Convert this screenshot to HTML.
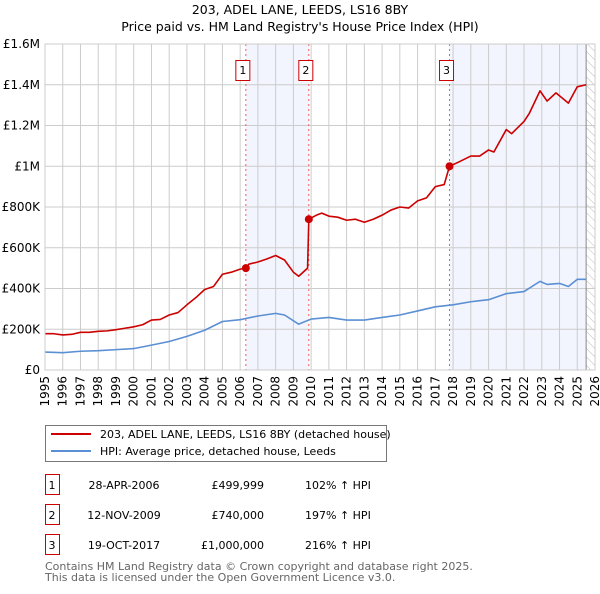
<!DOCTYPE html>
<html><head><meta charset="utf-8">
<style>
body{margin:0;background:#fff;width:600px;height:590px;overflow:hidden;font-family:"DejaVu Sans","Liberation Sans",sans-serif;}
svg text{font-family:"DejaVu Sans","Liberation Sans",sans-serif;}
</style></head>
<body>
<svg id="chart" width="600" height="590">
<defs>
<pattern id="hatch" width="6" height="6" patternUnits="userSpaceOnUse" patternTransform="rotate(-45)">
<line x1="0" y1="0" x2="0" y2="6" stroke="#bbb" stroke-width="1"/>
</pattern>
</defs>
<text x="300" y="14" text-anchor="middle" font-size="12.5" fill="#000">203, ADEL LANE, LEEDS, LS16 8BY</text>
<text x="300" y="31" text-anchor="middle" font-size="12.5" fill="#000">Price paid vs. HM Land Registry's House Price Index (HPI)</text>
<g id="plot"></g>
<g>
<rect x="45.5" y="425.5" width="341" height="36" fill="#fff" stroke="#777"/>
<line x1="51" y1="434" x2="91" y2="434" stroke="#cc0000" stroke-width="2"/>
<text x="100" y="438" font-size="11">203, ADEL LANE, LEEDS, LS16 8BY (detached house)</text>
<line x1="51" y1="451" x2="91" y2="451" stroke="#5b8fd4" stroke-width="2"/>
<text x="100" y="455" font-size="11">HPI: Average price, detached house, Leeds</text>
</g>
<g id="table" font-size="11"></g>
<text x="45" y="570" font-size="11" fill="#666">Contains HM Land Registry data © Crown copyright and database right 2025.</text>
<text x="45" y="581" font-size="11" fill="#666">This data is licensed under the Open Government Licence v3.0.</text>
</svg>
<script>
const redX=[1995,1995.5,1996,1996.5,1997,1997.5,1998,1998.5,1999,1999.5,2000,2000.5,2001,2001.5,2002,2002.5,2003,2003.5,2004,2004.5,2005,2005.5,2006,2006.32,2006.5,2007,2007.5,2008,2008.5,2009,2009.3,2009.8,2009.87,2010.3,2010.6,2011,2011.5,2012,2012.5,2013,2013.5,2014,2014.5,2015,2015.5,2016,2016.5,2017,2017.5,2017.8,2018.3,2019,2019.5,2020,2020.3,2021,2021.3,2022,2022.3,2022.9,2023.3,2023.8,2024.5,2025,2025.5];
const redY=[178,178,172,175,185,185,190,192,198,205,212,222,245,248,270,282,320,355,395,410,470,480,495,500,520,530,545,562,540,480,460,500,740,760,770,755,750,735,740,725,740,760,785,800,795,830,845,900,910,1000,1020,1050,1050,1080,1070,1180,1160,1220,1260,1370,1320,1360,1310,1390,1400];
const blueX=[1995,1996,1997,1998,1999,2000,2001,2002,2003,2004,2005,2006,2007,2008,2008.5,2009.3,2010,2011,2012,2013,2014,2015,2016,2017,2018,2019,2019.5,2020,2021,2022,2022.9,2023.3,2024,2024.5,2025,2025.5];
const blueY=[88,85,92,95,100,105,122,140,165,195,238,247,265,278,270,225,250,258,245,245,258,270,290,310,320,335,340,345,375,385,435,420,425,410,445,445];
const saleX=[2006.32,2009.87,2017.8];
const saleY=[500,740,1000];
const saleLabels=["1","2","3"];
const saleDates=["28-APR-2006","12-NOV-2009","19-OCT-2017"];
const salePrices=["£499,999","£740,000","£1,000,000"];
const saleHpi=["102% ↑ HPI","197% ↑ HPI","216% ↑ HPI"];
const yTicks=[0,200,400,600,800,1000,1200,1400,1600];
const yTickLabels=["£0","£200K","£400K","£600K","£800K","£1M","£1.2M","£1.4M","£1.6M"];
const xYears=[1995,1996,1997,1998,1999,2000,2001,2002,2003,2004,2005,2006,2007,2008,2009,2010,2011,2012,2013,2014,2015,2016,2017,2018,2019,2020,2021,2022,2023,2024,2025,2026];
const dataEnd=2025.5;

const NS="http://www.w3.org/2000/svg";
const L=45,R=595,T=44,B=370;
const xs=v=>L+(v-1995)/(2026-1995)*(R-L);
const ys=v=>B-v/1600*(B-T);
const plot=document.getElementById('plot');
function mk(tag,attrs,parent){const e=document.createElementNS(NS,tag);for(const k in attrs)e.setAttribute(k,attrs[k]);(parent||plot).appendChild(e);return e;}

let s=mk('rect',{x:xs(saleX[0]),y:T,width:xs(saleX[1])-xs(saleX[0]),height:B-T,fill:'#f2f5fd'});


s=mk('rect',{x:xs(saleX[2]),y:T,width:xs(dataEnd)-xs(saleX[2]),height:B-T,fill:'#f2f5fd'});


s=mk('rect',{x:xs(dataEnd),y:T,width:R-xs(dataEnd),height:B-T,fill:'url(#hatch)'});



xYears.forEach(y=>{const g=mk('line',{x1:xs(y),x2:xs(y),y1:T,y2:B,stroke:'#cccccc','stroke-width':1});


const t=mk('text',{x:0,y:0,'font-size':12,'text-anchor':'end',transform:`translate(${xs(y)+4},${B+6}) rotate(-90)`});t.textContent=y;

});
yTicks.forEach((v,i)=>{const g=mk('line',{x1:L,x2:R,y1:ys(v),y2:ys(v),stroke:'#cccccc','stroke-width':1});


const t=mk('text',{x:L-5,y:ys(v)+4,'font-size':12,'text-anchor':'end'});t.textContent=yTickLabels[i];

});
s=mk('line',{x1:xs(dataEnd),x2:xs(dataEnd),y1:T,y2:B,stroke:'#888','stroke-width':1});



saleX.forEach((x,i)=>{const l=mk('line',{x1:xs(x),x2:xs(x),y1:T,y2:B,stroke:'#ff5555','stroke-width':1,'stroke-dasharray':'2,3'});


const bx=mk('rect',{x:xs(x)-10,y:60.5,width:14,height:20,fill:'#fff',stroke:'#cc0000'});


const t=mk('text',{x:xs(x)-3,y:74,'font-size':11,'text-anchor':'middle'});t.textContent=saleLabels[i];

});

function line(X,Y,color,name){const p=mk('polyline',{points:X.map((x,i)=>xs(x)+','+ys(Y[i])).join(' '),fill:'none',stroke:color,'stroke-width':1.6,'stroke-linejoin':'round'});

}
line(blueX,blueY,'#5b8fd4','hpi-line');
line(redX,redY,'#cc0000','property-line');
saleX.forEach((x,i)=>{const c=mk('circle',{cx:xs(x),cy:ys(saleY[i]),r:4,fill:'#cc0000'});

});
const fr=mk('rect',{x:L,y:T,width:R-L,height:B-T,fill:'none',stroke:'#cccccc'});



const tb=document.getElementById('table');
const rowY=[485,515,545];
saleLabels.forEach((lab,i)=>{const y=rowY[i];
const b=mk('rect',{x:45.5,y:y-10.5,width:14,height:20,fill:'#fff',stroke:'#cc0000'},tb);


const cells=[[52,'middle',lab,'table-num'],[124,'middle',saleDates[i],'table-date'],[264,'end',salePrices[i],'table-price'],[305,'start',saleHpi[i],'table-hpi']];
cells.forEach(c=>{const t=mk('text',{x:c[0],y:y+4,'text-anchor':c[1]},tb);t.textContent=c[2];

});});
</script>
</body></html>
